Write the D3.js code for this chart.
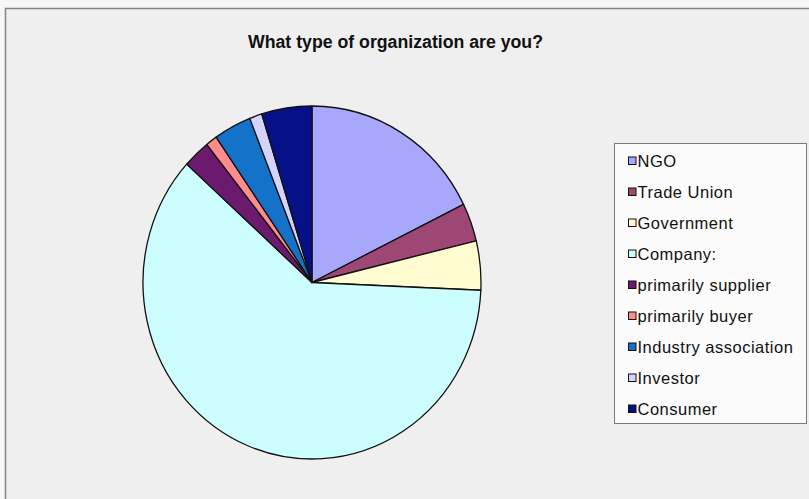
<!DOCTYPE html>
<html><head><meta charset="utf-8">
<script src="https://cdn.jsdelivr.net/npm/d3@7"></script>
<style>
html,body{margin:0;padding:0;background:#f7f7f7;}
svg{display:block;}
</style></head>
<body>
<svg id="chart" width="809" height="499"></svg>
<script>
const title = "What type of organization are you?";
const categories = ["NGO","Trade Union","Government","Company:","primarily supplier","primarily buyer","Industry association","Investor","Consumer"];
const values = [17.7, 3.5, 4.5, 61.0, 2.6, 1.1, 3.6, 1.2, 4.8];
const colors = ["#a7a7fb","#9e4775","#fffcd2","#ccfdff","#6c1a6e","#ff8c8c","#1472c8","#d2d4fb","#061188"];

const svg = d3.select("#chart");
// chart frame
svg.append("rect").attr("x",5.5).attr("y",8.5).attr("width",820).attr("height",500)
  .attr("fill","#efefef").attr("stroke","#858585").attr("stroke-width",1.5);

svg.append("text").attr("x",395.5).attr("y",47.5).attr("text-anchor","middle")
  .attr("font-family","Liberation Sans, Arial, sans-serif").attr("font-size",17.5)
  .attr("font-weight","bold").attr("fill","#111")
  .attr("textLength",295).attr("lengthAdjust","spacingAndGlyphs")
  .text(title);

const cx = 312, cy = 282.5, rx = 169, ry = 176.5, r = 100;
const pie = d3.pie().sort(null).value(d => d)(values);
const arc = d3.arc().innerRadius(0).outerRadius(r);
const g = svg.append("g").attr("transform",`translate(${cx},${cy}) scale(${rx/r},${ry/r})`);
g.selectAll("path").data(pie).join("path")
  .attr("d",arc)
  .attr("fill",(d,i)=>colors[i])
  .attr("stroke","#111")
  .attr("stroke-width",1.3)
  .attr("vector-effect","non-scaling-stroke")
  .attr("stroke-linejoin","round");

// legend
const lx = 614.5, ly = 143.5, lw = 192, lh = 280;
svg.append("rect").attr("x",lx).attr("y",ly).attr("width",lw).attr("height",lh)
  .attr("fill","#fbfbfb").attr("stroke","#7a7a7a").attr("stroke-width",1);
const y0 = 161, step = 31;
const items = svg.append("g").selectAll("g").data(categories).join("g")
  .attr("transform",(d,i)=>`translate(0,${y0 + i*step})`);
items.append("rect").attr("x",628.5).attr("y",-4).attr("width",7.5).attr("height",7.5)
  .attr("fill",(d,i)=>colors[i]).attr("stroke","#111").attr("stroke-width",1);
items.append("text").attr("x",637.5).attr("y",6)
  .attr("font-family","Liberation Sans, Arial, sans-serif").attr("font-size",16.5)
  .attr("letter-spacing",0.5)
  .attr("fill","#111").text(d=>d);
</script>
</body></html>
